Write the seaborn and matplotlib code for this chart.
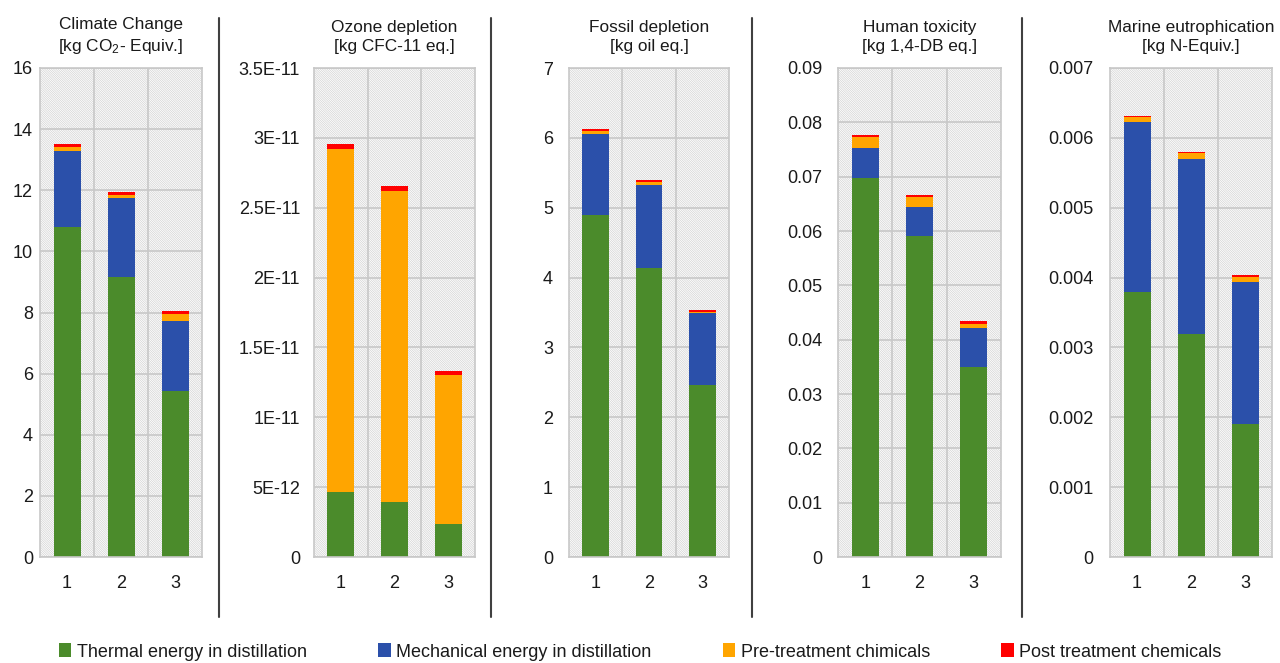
import numpy as np
import pandas as pd
import matplotlib.pyplot as plt
import seaborn as sns
from matplotlib.patches import Patch, Rectangle
from matplotlib.lines import Line2D
from matplotlib.ticker import MultipleLocator, FuncFormatter

# Scenarios and contributors
scenarios = ['1', '2', '3']
sources = ['Thermal energy in distillation', 'Mechanical energy in distillation',
           'Pre-treatment chimicals', 'Post treatment chemicals']
source_colors = ['#4b8b2b', '#2b50aa', '#ffa500', '#ff0000']

# Values (per scenario 1, 2, 3)
climate_thermal = [10.8, 9.16, 5.43]
climate_mech = [2.5, 2.59, 2.29]
climate_pre = [0.12, 0.1, 0.22]
climate_post = [0.1, 0.1, 0.1]

ozone_thermal = [4.65e-12, 3.93e-12, 2.36e-12]
ozone_mech = [0.0, 0.04e-12, 0.03e-12]
ozone_pre = [2.456e-11, 2.226e-11, 1.061e-11]
ozone_post = [3.4e-13, 3.3e-13, 3.4e-13]

fossil_thermal = [4.9, 4.14, 2.46]
fossil_mech = [1.15, 1.19, 1.03]
fossil_pre = [0.05, 0.04, 0.02]
fossil_post = [0.02, 0.02, 0.02]

tox_thermal = [0.0698, 0.059, 0.035]
tox_mech = [0.0054, 0.0055, 0.0071]
tox_pre = [0.0021, 0.0018, 0.0008]
tox_post = [0.0004, 0.0004, 0.0005]

marine_thermal = [0.00379, 0.00319, 0.0019]
marine_mech = [0.00243, 0.00251, 0.00204]
marine_pre = [0.00008, 0.00008, 0.00007]
marine_post = [0.00002, 0.00002, 0.00002]

titles = ['Climate Change\n[kg CO$_2$- Equiv.]',
          'Ozone depletion\n[kg CFC-11 eq.]',
          'Fossil depletion\n[kg oil eq.]',
          'Human toxicity\n[kg 1,4-DB eq.]',
          'Marine eutrophication\n[kg N-Equiv.]']
y_max = [16, 3.5e-11, 7, 0.09, 0.007]
y_step = [2, 5e-12, 1, 0.01, 0.001]

panels = [
    (climate_thermal, climate_mech, climate_pre, climate_post),
    (ozone_thermal, ozone_mech, ozone_pre, ozone_post),
    (fossil_thermal, fossil_mech, fossil_pre, fossil_post),
    (tox_thermal, tox_mech, tox_pre, tox_post),
    (marine_thermal, marine_mech, marine_pre, marine_post),
]


def sci_label(v, pos):
    if v == 0:
        return '0'
    s = f'{v:.1E}'
    mant, exp = s.split('E')
    mant = mant.rstrip('0').rstrip('.')
    return f'{mant}E-{int(exp[1:])}'


def plain_label(v, pos):
    if abs(v) < 1e-12:
        return '0'
    return f'{v:g}'


sns.set_style('white')
plt.rcParams['font.family'] = ['Liberation Sans', 'DejaVu Sans']
plt.rcParams['mathtext.fontset'] = 'custom'
plt.rcParams['mathtext.rm'] = 'Liberation Sans'
plt.rcParams['mathtext.it'] = 'Liberation Sans:italic'
plt.rcParams['hatch.linewidth'] = 0.5
plt.rcParams['hatch.color'] = '#d2d2d2'

text_color = '#1a1a1a'
grid_color = '#c8c8c8'

fig = plt.figure(figsize=(12.8, 6.63), dpi=100)

# axes positions in pixels (left, right)
ax_px = [(40, 202), (314, 475), (569, 729), (838, 1001), (1110, 1272)]
ytick_pad = [5, 10, 11.5, 11.5, 12]
top_px, bot_px = 68, 557
W, H = 1280, 663

for i, (left, right) in enumerate(ax_px):
    ax = fig.add_axes([left / W, 1 - bot_px / H, (right - left) / W, (bot_px - top_px) / H])
    ax.add_patch(Rectangle((0, 0), 1, 1, transform=ax.transAxes, facecolor='white',
                           edgecolor='#d2d2d2', hatch='\\' * 15, lw=0, zorder=0))

    df = pd.DataFrame(dict(zip(sources, panels[i])), index=scenarios)
    stacked = df.cumsum(axis=1)
    # draw from the top of the stack down so each layer covers the one below
    for k in range(len(sources) - 1, -1, -1):
        sns.barplot(x=scenarios, y=stacked[sources[k]].values, color=source_colors[k],
                    width=0.5, saturation=1, linewidth=0, ax=ax, zorder=2)

    ax.set_xlim(-0.5, 2.5)
    ax.set_ylim(0, y_max[i])
    ax.yaxis.set_major_locator(MultipleLocator(y_step[i]))
    ax.yaxis.set_major_formatter(FuncFormatter(sci_label if i == 1 else plain_label))
    ax.yaxis.get_offset_text().set_visible(False)
    ax.set_xticks([0.5, 1.5], minor=True)
    ax.set_axisbelow(True)
    ax.yaxis.grid(True, color=grid_color, lw=1.2)
    ax.xaxis.grid(True, which='minor', color=grid_color, lw=1.2)
    ax.xaxis.grid(False, which='major')
    for sp in ax.spines.values():
        sp.set_color(grid_color)
        sp.set_linewidth(1.2)
    ax.tick_params(axis='y', length=0, pad=ytick_pad[i], labelsize=13, labelcolor=text_color)
    ax.tick_params(axis='x', which='both', length=0, pad=13, labelsize=13, labelcolor=text_color)
    ax.set_xlabel('')
    ax.set_ylabel('')
    ax.set_title(titles[i], fontsize=12.4, pad=12, linespacing=1.4, color=text_color)

# separators between panels
for x in [219, 491, 752, 1022]:
    fig.add_artist(Line2D([x / W, x / W], [1 - 18 / H, 1 - 617 / H], color='#404040', lw=1.5))

handles = [Patch(facecolor=c, edgecolor='none') for c in source_colors]
fig.legend(handles, sources, loc='center', bbox_to_anchor=(0.5, 1 - 652 / H), ncol=4,
           frameon=False, fontsize=13, handlelength=0.7, handleheight=0.8,
           handletextpad=0.3, columnspacing=3.95, labelcolor=text_color)

fig.savefig('out.png', dpi=100)
